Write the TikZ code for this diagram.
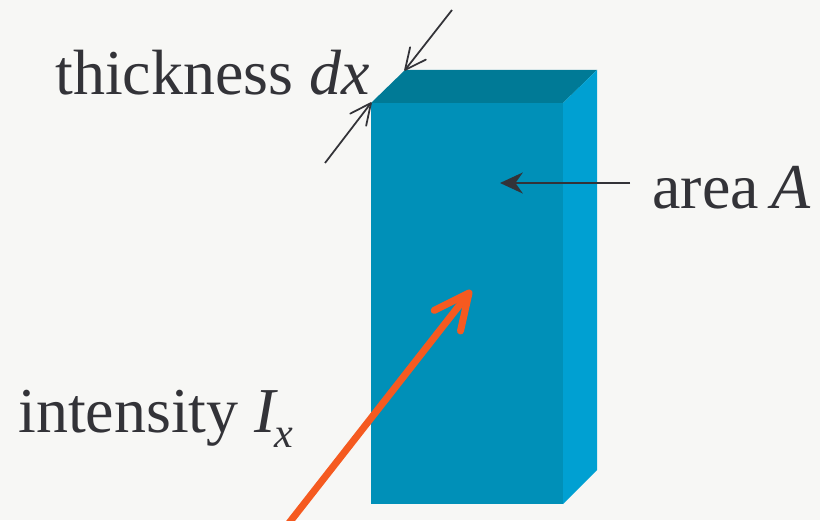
\documentclass[tikz,border=0pt]{standalone}
\usepackage{fontspec}
\setmainfont{Liberation Serif}
\usetikzlibrary{arrows.meta}
\definecolor{paper}{RGB}{247,247,245}
\definecolor{inkgrey}{RGB}{51,51,56}
\definecolor{slabfront}{RGB}{0,144,184}
\definecolor{slabtop}{RGB}{0,122,150}
\definecolor{slabside}{RGB}{0,160,210}
\definecolor{beamorange}{RGB}{245,90,32}
\pgfdeclarearrow{
  name=OpenHead,
  parameters={\the\pgfarrowlength,\the\pgfarrowwidth,\the\pgfarrowlinewidth},
  setup code={\pgfarrowssettipend{0pt}\pgfarrowssetlineend{-.5\pgfarrowlinewidth}\pgfarrowssavethe\pgfarrowlinewidth\pgfarrowssavethe\pgfarrowlength\pgfarrowssavethe\pgfarrowwidth},
  drawing code={
    \pgfsetlinewidth{\pgfarrowlinewidth}\pgfsetroundcap\pgfsetroundjoin
    \pgfpathmoveto{\pgfpoint{-\pgfarrowlength}{.5\pgfarrowwidth}}
    \pgfpathlineto{\pgfpointorigin}
    \pgfpathlineto{\pgfpoint{-\pgfarrowlength}{-.5\pgfarrowwidth}}
    \pgfusepathqstroke},
  defaults={length=10pt,width=10pt,line width=1pt}
}

\begin{document}
\begin{tikzpicture}[x=.02cm,y=-.02cm,
    label/.style={anchor=base west,inner sep=0pt,text=inkgrey,font=\fontsize{36.4}{40}\selectfont},
    gauge/.style={draw=inkgrey,line width=1pt,-{OpenHead[length=12pt,width=11.4pt,line width=1pt]}},
    pointer/.style={draw=inkgrey,line width=1pt,-{Stealth[length=13pt,width=12pt]}},
    beam/.style={draw=beamorange,line width=4pt,-{OpenHead[length=20pt,width=19pt,line width=4pt]}}]
    \fill[paper] (0,0) rectangle (820,520);
    \clip (0,0) rectangle (820,520);
    % slab faces
    \coordinate (fronttl) at (371,103);
    \coordinate (fronttr) at (563,103);
    \coordinate (frontbr) at (563,504);
    \coordinate (frontbl) at (371,504);
    \coordinate (backtl) at (405,70);
    \coordinate (backtr) at (597,70);
    \coordinate (backbr) at (597,470);
    \fill[slabfront] (fronttl)--(fronttr)--(frontbr)--(frontbl)--cycle;
    \fill[slabtop] (fronttl)--(backtl)--(backtr)--(fronttr)--cycle;
    \fill[slabside] (fronttr)--(backtr)--(backbr)--(frontbr)--cycle;
    % labels
    \node[label] (thick) at (55,95) {thickness \textit{dx}};
    \node[label] (area) at (652,208) {area\hspace{-2pt} \textit{A}};
    \node[label] (intens) at (18,432) {intensity \textit{I}\hspace{-2pt}\raisebox{-.24em}{\fontsize{24}{26}\selectfont\textit{x}}};
    % arrows
    \coordinate (gaugeA) at (452,10);
    \coordinate (gaugeB) at (325,163);
    \coordinate (areaS) at (630,183);
    \coordinate (areaE) at (500,183);
    \coordinate (beamS) at (289,523);
    \coordinate (beamE) at (469,293);
    \draw[gauge] (gaugeA)--(backtl);
    \draw[gauge] (gaugeB)--(fronttl);
    \draw[pointer] (areaS)--(areaE);
    \draw[beam] (beamS)--(beamE);
  \end{tikzpicture}
\end{document}
